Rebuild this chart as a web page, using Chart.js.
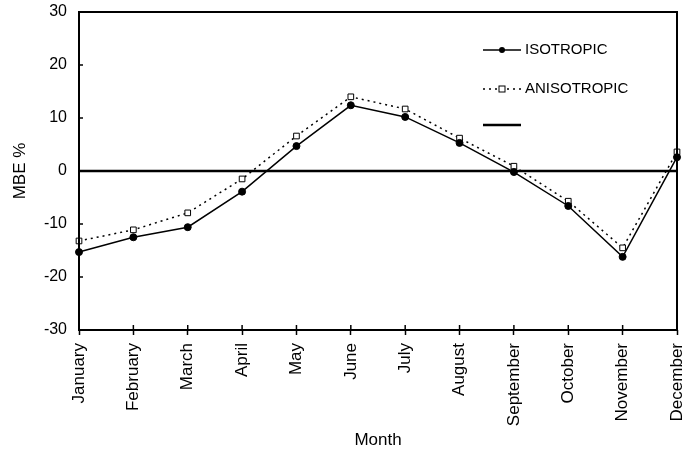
<!DOCTYPE html>
<html>
<head>
<meta charset="utf-8">
<script src="https://cdn.jsdelivr.net/npm/chart.js@4/dist/chart.umd.min.js"></script>
<style>
  html, body { margin: 0; padding: 0; background: #fff; }
  #wrap { width: 684px; height: 459px; }
</style>
</head>
<body>
<div id="wrap"><canvas id="mbeChart" width="684" height="459"></canvas></div>
<script>
// data
const months = ['January', 'February', 'March', 'April', 'May', 'June',
    'July', 'August', 'September', 'October', 'November', 'December'];
const isotropic = [-15.3, -12.5, -10.6, -3.9, 4.7, 12.4, 10.2, 5.3, -0.2, -6.6, -16.2, 2.6];
const anisotropic = [-13.2, -11.1, -7.9, -1.5, 6.6, 14.0, 11.7, 6.2, 0.9, -5.7, -14.5, 3.6];
const zeroLine = [0, 0, 0, 0, 0, 0, 0, 0, 0, 0, 0, 0];
const yTicks = [-30, -20, -10, 0, 10, 20, 30];

const font = 'Liberation Sans, Arial, sans-serif';

/*
 * frame around the plot, inner y ticks, inner half of the x ticks
 */
const framePlugin = {
    id: 'frame',
    afterDraw(chart) {
        const { ctx, chartArea: a } = chart;
        ctx.save();
        ctx.strokeStyle = '#000';
        ctx.lineWidth = 2;
        ctx.strokeRect(a.left, a.top, a.right - a.left, a.bottom - a.top);
        ctx.lineWidth = 1.5;
        const xs = chart.scales.x;
        for (let i = 0; i < months.length; i++) {
            const x = xs.getPixelForValue(i);
            ctx.beginPath();
            ctx.moveTo(x, a.bottom);
            ctx.lineTo(x, a.bottom - 5);
            ctx.stroke();
        }
        const ys = chart.scales.y;
        for (let v of yTicks) {
            const y = ys.getPixelForValue(v);
            ctx.beginPath();
            ctx.moveTo(a.left, y);
            ctx.lineTo(a.left + 4, y);
            ctx.stroke();
        }
        ctx.restore();
    }
};

/*
 * legend drawn inside the plot, top right
 */
const innerLegend = {
    id: 'innerLegend',
    afterDraw(chart) {
        const { ctx } = chart;
        const x0 = 483, x1 = 521, rows = [50, 89, 125];
        ctx.save();
        chart.data.datasets.forEach((ds, i) => {
            const y = rows[i];
            ctx.strokeStyle = '#000';
            ctx.lineWidth = ds.borderWidth;
            ctx.setLineDash(ds.borderDash || []);
            ctx.beginPath();
            ctx.moveTo(x0, y);
            ctx.lineTo(x1, y);
            ctx.stroke();
            ctx.setLineDash([]);
            const mx = (x0 + x1) / 2;
            if (ds.pointStyle === 'circle' && ds.pointRadius > 0) {
                ctx.fillStyle = '#000';
                ctx.beginPath();
                ctx.arc(mx, y, 3, 0, Math.PI * 2);
                ctx.fill();
            } else if (ds.pointStyle === 'rect') {
                ctx.fillStyle = '#fff';
                ctx.fillRect(mx - 3, y - 3, 6, 6);
                ctx.lineWidth = 1;
                ctx.strokeRect(mx - 3, y - 3, 6, 6);
            }
            if (ds.label) {
                ctx.fillStyle = '#000';
                ctx.font = '15px ' + font;
                ctx.textBaseline = 'middle';
                ctx.fillText(ds.label, x1 + 4, y);
            }
        });
        ctx.restore();
    }
};

const chartData = {
    labels: months,
    datasets: [
        {
            label: 'ISOTROPIC',
            data: isotropic,
            borderColor: '#000',
            backgroundColor: '#000',
            borderWidth: 1.5,
            pointStyle: 'circle',
            pointRadius: 3.5,
            pointBorderWidth: 1,
            tension: 0,
            clip: false,
        },
        {
            label: 'ANISOTROPIC',
            data: anisotropic,
            borderColor: '#000',
            backgroundColor: '#fff',
            borderWidth: 1.5,
            borderDash: [2, 4],
            pointStyle: 'rect',
            pointRadius: 4,
            pointBorderWidth: 1,
            tension: 0,
            clip: false,
        },
        {
            label: '',
            data: zeroLine,
            borderColor: '#000',
            borderWidth: 2.5,
            pointRadius: 0,
            pointStyle: false,
            tension: 0,
        },
    ]
};

const chartOptions = {
    responsive: false,
    animation: false,
    layout: { padding: { left: 6, right: 7, top: 12, bottom: 6 } },
    plugins: {
        legend: { display: false },
        tooltip: { enabled: false },
    },
    scales: {
        x: {
            type: 'category',
            offset: false,
            afterFit(scale) {
                scale.height = 123;
                scale.paddingLeft = 0;
                scale.paddingRight = 0;
            },
            grid: {
                drawOnChartArea: false,
                tickLength: 5,
                tickWidth: 1.5,
                color: '#000',
            },
            border: { display: false },
            ticks: {
                color: '#000',
                font: { family: font, size: 17 },
                minRotation: 90,
                maxRotation: 90,
                padding: 8,
                autoSkip: false,
            },
            title: {
                display: true,
                text: 'Month',
                color: '#000',
                font: { family: font, size: 17 },
                padding: { top: 4, bottom: 2 },
            },
        },
        y: {
            min: -30,
            max: 30,
            afterFit(scale) {
                scale.width = 73;
                scale.paddingTop = 0;
                scale.paddingBottom = 0;
            },
            afterBuildTicks(scale) { scale.ticks = yTicks.map(v => ({ value: v })); },
            grid: {
                drawOnChartArea: false,
                drawTicks: false,
                color: '#000',
            },
            border: { display: false },
            ticks: {
                color: '#000',
                font: { family: font, size: 16 },
                padding: 12,
            },
            title: {
                display: true,
                text: 'MBE %',
                color: '#000',
                font: { family: font, size: 17 },
            },
        },
    },
};

const ctx = document.getElementById('mbeChart').getContext('2d');
const mbeChart = new Chart(ctx, {
    type: 'line',
    data: chartData,
    options: chartOptions,
    plugins: [framePlugin, innerLegend],
});
</script>
</body>
</html>
